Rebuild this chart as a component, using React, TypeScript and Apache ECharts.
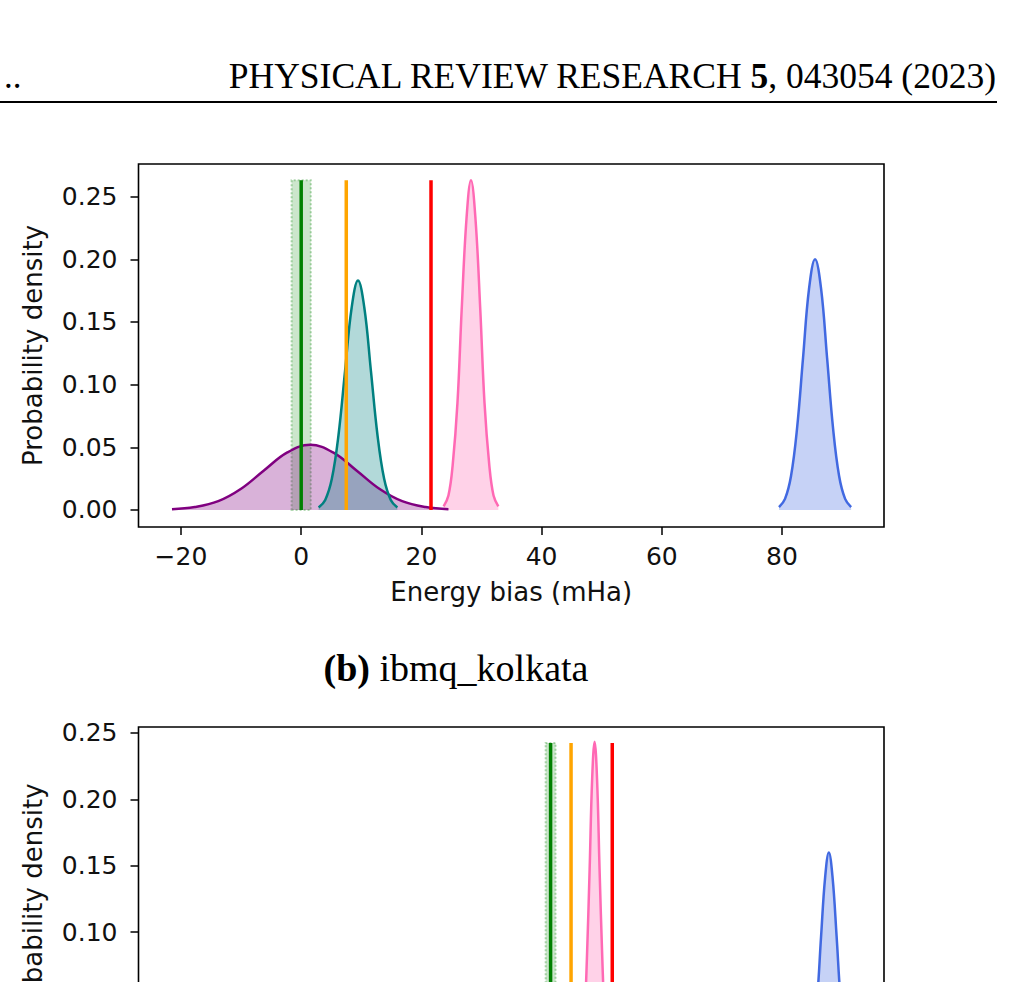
import React, { useEffect, useRef } from "react";
import * as echarts from "echarts";

// ---------- Panel (a) data (top) ----------
const topTickX = [-20, 0, 20, 40, 60, 80];
const topTickY = [0, 0.05, 0.1, 0.15, 0.2, 0.25];

const topPurpleX = [-21.5, -17.7, -13.8, -10.0, -6.2, -2.3, 1.5, 5.3, 9.2, 13.0, 16.8, 20.7, 24.5];
const topPurpleY = [0.0006, 0.0023, 0.007, 0.0169, 0.0315, 0.0459, 0.052, 0.0459, 0.0315, 0.0169, 0.007, 0.0023, 0.0006];

const topTealX = [2.9, 4.0, 5.1, 6.2, 7.3, 8.4, 9.45, 10.5, 11.6, 12.7, 13.8, 14.9, 16.0];
const topTealY = [0.002, 0.008, 0.0248, 0.0594, 0.111, 0.1615, 0.183, 0.1615, 0.111, 0.0594, 0.0248, 0.008, 0.002];

const topPinkX = [23.7, 24.5, 25.2, 26.0, 26.7, 27.5, 28.25, 29.0, 29.8, 30.5, 31.3, 32.0, 32.8];
const topPinkY = [0.0029, 0.0115, 0.0356, 0.0854, 0.1595, 0.2321, 0.263, 0.2321, 0.1595, 0.0854, 0.0356, 0.0115, 0.0029];

const topBlueX = [79.5, 80.5, 81.5, 82.5, 83.5, 84.5, 85.5, 86.5, 87.5, 88.5, 89.5, 90.5, 91.5];
const topBlueY = [0.0022, 0.0088, 0.0271, 0.0649, 0.1213, 0.1765, 0.2, 0.1765, 0.1213, 0.0649, 0.0271, 0.0088, 0.0022];

const topVLines = { green: 0, orange: 7.5, red: 21.6 };
const topVLineTop = 0.263;
const topBand = [-1.6, 1.6];

// ---------- Panel (b) data (bottom, ibmq_kolkata) ----------
const botTickX = [-100, -50, 0, 50, 100];
const botTickY = [0, 0.05, 0.1, 0.15, 0.2, 0.25];

const botPinkX = [9.3, 10.1, 10.9, 11.7, 12.6, 13.4, 14.2, 15.0, 15.8, 16.7, 17.5, 18.3, 19.1];
const botPinkY = [0.0027, 0.0107, 0.0329, 0.079, 0.1476, 0.2148, 0.2434, 0.2148, 0.1476, 0.079, 0.0329, 0.0107, 0.0027];

const botBlueX = [82.3, 83.6, 84.8, 86.1, 87.3, 88.6, 89.8, 91.0, 92.3, 93.5, 94.8, 96.0, 97.3];
const botBlueY = [0.0018, 0.007, 0.0216, 0.052, 0.097, 0.1412, 0.16, 0.1412, 0.097, 0.052, 0.0216, 0.007, 0.0018];

const botVLines = { green: 0, orange: 6.6, red: 19.9 };
const botVLineTop = 0.2424;
const botBand = [-1.6, 1.6];

// ---------- helpers ----------
const zip = (xs: number[], ys: number[]) => xs.map((x, i) => [x, ys[i]]);
const SANS = "DejaVu Sans";
const fmtX = (v: number) => (v < 0 ? "\u2212" + Math.abs(v) : String(v));
const fmtY = (v: number) => v.toFixed(2);

function curve(xs: number[], ys: number[], color: string, gi: number) {
  return {
    type: "line",
    xAxisIndex: gi,
    yAxisIndex: gi,
    data: zip(xs, ys),
    smooth: 0.4,
    symbol: "none",
    silent: true,
    lineStyle: { color, width: 2.5 },
    areaStyle: { color, opacity: 0.3 },
    z: 2,
  };
}

function vline(x: number, top: number, color: string, gi: number, band?: number[]) {
  const s: any = {
    type: "line",
    xAxisIndex: gi,
    yAxisIndex: gi,
    data: [
      [x, 0],
      [x, top],
    ],
    symbol: "none",
    silent: true,
    lineStyle: { color, width: 3.5 },
    z: 4,
  };
  if (band) {
    s.markArea = {
      silent: true,
      itemStyle: {
        color: "rgba(0,128,0,0.2)",
        borderColor: "rgba(0,128,0,0.3)",
        borderWidth: 2,
        borderType: "dotted",
      },
      data: [[{ coord: [band[0], 0] }, { coord: [band[1], top] }]],
    };
  }
  return s;
}

function xAxis(gi: number, min: number, max: number, ticks: number[]) {
  return {
    type: "value",
    gridIndex: gi,
    min,
    max,
    axisLine: { show: false, onZero: false },
    axisTick: { show: true, length: 8, lineStyle: { color: "#000", width: 1.5 }, customValues: ticks },
    axisLabel: { customValues: ticks, formatter: fmtX, fontFamily: SANS, fontSize: 25, color: "#111", margin: 17 },
    splitLine: { show: false },
    name: "Energy bias (mHa)",
    nameLocation: "middle",
    nameGap: 52,
    nameTextStyle: { fontFamily: SANS, fontSize: 26, color: "#111" },
  };
}

function yAxis(gi: number, min: number, max: number, ticks: number[]) {
  return {
    type: "value",
    gridIndex: gi,
    min,
    max,
    axisLine: { show: false, onZero: false },
    axisTick: { show: true, length: 8, lineStyle: { color: "#000", width: 1.5 }, customValues: ticks },
    axisLabel: { customValues: ticks, formatter: fmtY, fontFamily: SANS, fontSize: 25, color: "#111", margin: 21 },
    splitLine: { show: false },
    name: "Probability density",
    nameLocation: "middle",
    nameGap: 93,
    nameTextStyle: { fontFamily: SANS, fontSize: 26, color: "#111" },
  };
}

function buildOption() {
  const gridCommon = {
    show: true,
    borderColor: "#000",
    borderWidth: 1.6,
    backgroundColor: "transparent",
    containLabel: false,
  };
  return {
    animation: false,
    backgroundColor: "#fff",
    grid: [
      { ...gridCommon, left: 138.5, top: 164, width: 745.5, height: 363 },
      { ...gridCommon, left: 138.5, top: 727, width: 745.5, height: 362.5 },
    ],
    xAxis: [xAxis(0, -27.07, 96.97, topTickX), xAxis(1, -133, 107.6, botTickX)],
    yAxis: [yAxis(0, -0.0136, 0.276, topTickY), yAxis(1, -0.0121, 0.2545, botTickY)],
    series: [
      curve(topPurpleX, topPurpleY, "#800080", 0),
      curve(topTealX, topTealY, "#008080", 0),
      curve(topPinkX, topPinkY, "#ff69b4", 0),
      curve(topBlueX, topBlueY, "#4169e1", 0),
      vline(topVLines.green, topVLineTop, "#008000", 0, topBand),
      vline(topVLines.orange, topVLineTop, "#ffa500", 0),
      vline(topVLines.red, topVLineTop, "#ff0000", 0),

      curve(botPinkX, botPinkY, "#ff69b4", 1),
      curve(botBlueX, botBlueY, "#4169e1", 1),
      vline(botVLines.green, botVLineTop, "#008000", 1, botBand),
      vline(botVLines.orange, botVLineTop, "#ffa500", 1),
      vline(botVLines.red, botVLineTop, "#ff0000", 1),
    ],
    graphic: [
      {
        type: "text",
        x: 996,
        y: 76,
        style: {
          text: "{a|PHYSICAL REVIEW RESEARCH }{b|5}{a|, 043054 (2023)}",
          align: "right",
          verticalAlign: "middle",
          rich: {
            a: { fontFamily: "Liberation Serif", fontSize: 35.5, fill: "#000" },
            b: { fontFamily: "Liberation Serif", fontSize: 35.5, fontWeight: "bold", fill: "#000" },
          },
        },
      },
      {
        type: "text",
        x: 4,
        y: 76,
        style: {
          text: "..",
          fontFamily: "Liberation Serif",
          fontSize: 35,
          fill: "#000",
          align: "left",
          verticalAlign: "middle",
        },
      },
      {
        type: "line",
        shape: { x1: 0, y1: 102, x2: 997, y2: 102 },
        style: { stroke: "#000", lineWidth: 2 },
      },
      {
        type: "text",
        x: 456,
        y: 668,
        style: {
          text: "{b|(b)}{r| ibmq_kolkata}",
          align: "center",
          verticalAlign: "middle",
          rich: {
            b: { fontFamily: "Liberation Serif", fontSize: 38, fontWeight: "bold", fill: "#000" },
            r: { fontFamily: "Liberation Serif", fontSize: 38, fill: "#000" },
          },
        },
      },
    ],
  };
}

export default function App() {
  const ref = useRef<HTMLDivElement>(null);
  useEffect(() => {
    document.body.style.margin = "0";
    document.body.style.overflow = "hidden";
    document.documentElement.style.overflow = "hidden";
    const chart = echarts.init(ref.current as HTMLDivElement, null, { renderer: "svg" });
    chart.setOption(buildOption() as any);
    return () => {
      chart.dispose();
    };
  }, []);
  return <div ref={ref} style={{ width: 1024, height: 1160, background: "#fff" }} />;
}
